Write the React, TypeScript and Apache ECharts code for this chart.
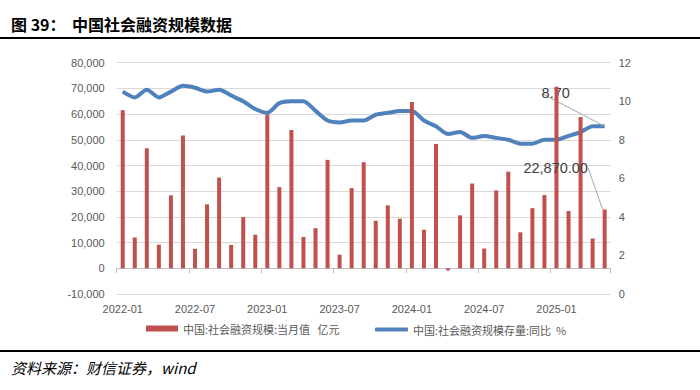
import React, { useEffect, useRef } from "react";
import * as echarts from "echarts";

const months = [
  "2022-01","2022-02","2022-03","2022-04","2022-05","2022-06","2022-07","2022-08","2022-09","2022-10","2022-11","2022-12",
  "2023-01","2023-02","2023-03","2023-04","2023-05","2023-06","2023-07","2023-08","2023-09","2023-10","2023-11","2023-12",
  "2024-01","2024-02","2024-03","2024-04","2024-05","2024-06","2024-07","2024-08","2024-09","2024-10","2024-11","2024-12",
  "2025-01","2025-02","2025-03","2025-04","2025-05",
];

// 中国:社会融资规模:当月值 (亿元)
const tsfMonthly = [
  61500, 12000, 46700, 9200, 28400, 51700, 7600, 24900, 35300, 9100, 19900, 13100,
  59800, 31600, 53800, 12200, 15600, 42200, 5300, 31200, 41300, 18500, 24500, 19300,
  64700, 15000, 48400, -800, 20600, 33000, 7700, 30300, 37600, 14000, 23400, 28500,
  70600, 22300, 58900, 11600, 22870,
];

// 中国:社会融资规模存量:同比 (%)
const tsfStockYoY = [
  10.5, 10.2, 10.6, 10.2, 10.5, 10.8, 10.7, 10.5, 10.6, 10.3, 10.0, 9.6,
  9.4, 9.9, 10.0, 10.0, 9.5, 9.0, 8.9, 9.0, 9.0, 9.3, 9.4, 9.5,
  9.5, 9.0, 8.7, 8.3, 8.4, 8.1, 8.2, 8.1, 8.0, 7.8, 7.8, 8.0,
  8.0, 8.2, 8.4, 8.7, 8.7,
];

const barName = "中国:社会融资规模:当月值   亿元";
const lineName = "中国:社会融资规模存量:同比  %";
const title1 = "图 39：";
const title2 = "中国社会融资规模数据";
const sourceText = "资料来源：财信证券，wind";

export default function App() {
  const ref = useRef<HTMLDivElement>(null);
  useEffect(() => {
    if (!ref.current) return;
    const chart = echarts.init(ref.current, null, { renderer: "svg" });
    const last = tsfMonthly.length - 1;
    const barData = tsfMonthly.map((v, i) =>
      i === last
        ? {
            value: v,
            label: {
              show: true,
              formatter: (p: any) =>
                Number(p.value).toLocaleString("en-US", { minimumFractionDigits: 2, maximumFractionDigits: 2 }),
            },
            labelLine: { show: true },
          }
        : v
    );
    const lineData = tsfStockYoY.map((v, i) =>
      i === last
        ? {
            value: v,
            label: { show: true, formatter: (p: any) => Number(p.value).toFixed(2) },
            labelLine: { show: true },
          }
        : v
    );
    const labelText = {
      color: "#404040",
      fontSize: 14.5,
      fontFamily: "Liberation Sans",
      align: "center",
      verticalAlign: "middle",
    };
    const axisFont = { color: "#595959", fontSize: 11, fontFamily: "Liberation Sans" };
    chart.setOption({
      animation: false,
      textStyle: { fontFamily: "Noto Sans CJK SC" },
      grid: { left: 116.7, right: 89.3, top: 62.7, bottom: 96, containLabel: false },
      legend: [
        {
          data: [{ name: barName, icon: "rect" }],
          left: 141,
          top: 318,
          itemWidth: 32,
          itemHeight: 6,
          itemGap: 5,
          textStyle: { color: "#595959", fontSize: 11, fontFamily: "Noto Sans CJK SC" },
        },
        {
          data: [{ name: lineName, icon: "roundRect" }],
          left: 370,
          top: 319,
          itemWidth: 33,
          itemHeight: 4,
          textStyle: { color: "#595959", fontSize: 11, fontFamily: "Noto Sans CJK SC" },
        },
      ],
      xAxis: {
        type: "category",
        data: months,
        axisLine: { onZero: true, onZeroAxisIndex: 0, lineStyle: { color: "#BFBFBF" } },
        axisTick: { show: true, interval: 5, length: 5, lineStyle: { color: "#BFBFBF" } },
        axisLabel: { interval: 5, margin: 9, ...axisFont },
      },
      yAxis: [
        {
          type: "value",
          min: -10000,
          max: 80000,
          interval: 10000,
          axisLine: { show: false },
          axisTick: { show: false },
          splitLine: { lineStyle: { color: "#D9D9D9", width: 1 } },
          axisLabel: {
            margin: 12,
            ...axisFont,
            formatter: (v: number) => v.toLocaleString("en-US"),
          },
        },
        {
          type: "value",
          position: "right",
          min: 0,
          max: 12,
          interval: 2,
          axisLine: { show: false },
          axisTick: { show: false },
          splitLine: { show: false },
          axisLabel: { margin: 8, ...axisFont },
        },
      ],
      series: [
        {
          name: lineName,
          type: "line",
          yAxisIndex: 1,
          data: lineData,
          smooth: 0.25,
          symbol: "circle",
          symbolSize: 0,
          showSymbol: true,
          showAllSymbol: true,
          lineStyle: { color: "#4F81BD", width: 4 },
          itemStyle: { color: "#4F81BD" },
          label: { show: false, ...labelText },
          labelLine: { lineStyle: { color: "#A6A6A6", width: 1 } },
          labelLayout: (params: any) => ({
            x: params.rect.x + params.rect.width / 2 - 49,
            y: params.rect.y + params.rect.height / 2 - 33,
          }),
          z: 2,
        },
        {
          name: barName,
          type: "bar",
          yAxisIndex: 0,
          data: barData,
          barWidth: 4,
          itemStyle: { color: "#C0504D" },
          label: { show: false, ...labelText },
          labelLine: { lineStyle: { color: "#A6A6A6", width: 1 } },
          labelLayout: (params: any) => ({
            x: params.rect.x + params.rect.width / 2 - 49,
            y: params.rect.y - 42,
          }),
          z: 3,
        },
      ],
      graphic: [
        {
          type: "text",
          left: 11,
          top: 16,
          style: { text: title1, font: 'bold 16px "Noto Sans CJK SC"', fill: "#000" },
        },
        {
          type: "text",
          left: 72,
          top: 16,
          style: { text: title2, font: 'bold 16px "Noto Sans CJK SC"', fill: "#000" },
        },
        {
          type: "line",
          shape: { x1: 0, y1: 38, x2: 700, y2: 38 },
          style: { stroke: "#000", lineWidth: 2 },
        },
        {
          type: "line",
          shape: { x1: 0, y1: 351, x2: 700, y2: 351 },
          style: { stroke: "#000", lineWidth: 2 },
        },
        {
          type: "text",
          left: 11,
          top: 360,
          style: { text: sourceText, font: 'italic 15px "Noto Sans CJK SC"', fill: "#000" },
        },
      ],
    });
    return () => chart.dispose();
  }, []);
  return (
    <div
      ref={ref}
      style={{ position: "fixed", left: 0, top: 0, width: 700, height: 390, background: "#fff" }}
    />
  );
}
